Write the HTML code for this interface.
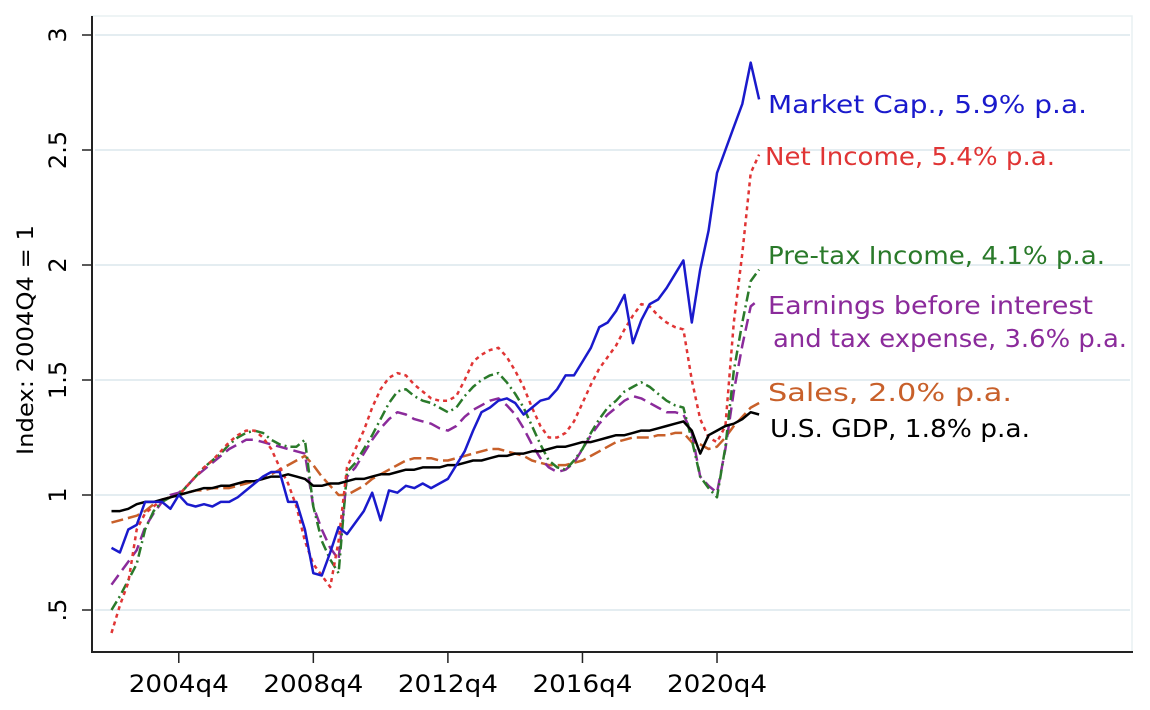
<!DOCTYPE html>
<html><head><meta charset="utf-8"><style>
html,body{margin:0;padding:0;background:#fff;}
svg{display:block;font-family:"DejaVu Sans","Liberation Sans",sans-serif;}
</style></head><body>
<svg id="chart" width="1150" height="710" viewBox="0 0 1150 710" xmlns="http://www.w3.org/2000/svg">
<rect x="0" y="0" width="1150" height="710" fill="#fff"/>
<g id="grid"></g>
<g id="axes"></g>
<g id="series"></g>
<g id="labels"></g>
<text transform="translate(33,340) rotate(-90)" text-anchor="middle" font-size="22" textLength="230" lengthAdjust="spacingAndGlyphs" fill="#000">Index: 2004Q4 = 1</text>
</svg>
<script>
const startYear = 2002, startQuarter = 4;
const yTicks = [0.5, 1, 1.5, 2, 2.5, 3];
const yTickLabels = [".5", "1", "1.5", "2", "2.5", "3"];
const xTickLabels = ["2004q4", "2008q4", "2012q4", "2016q4", "2020q4"];
const xTickIndex = [8, 24, 40, 56, 72];
const marketCap = [0.77,0.75,0.85,0.87,0.97,0.97,0.97,0.94,1.00,0.96,0.95,0.96,0.95,0.97,0.97,0.99,1.02,1.05,1.08,1.10,1.10,0.97,0.97,0.85,0.66,0.65,0.75,0.86,0.83,0.88,0.93,1.01,0.89,1.02,1.01,1.04,1.03,1.05,1.03,1.05,1.07,1.13,1.19,1.28,1.36,1.38,1.41,1.42,1.40,1.35,1.38,1.41,1.42,1.46,1.52,1.52,1.58,1.64,1.73,1.75,1.80,1.87,1.66,1.76,1.83,1.85,1.90,1.96,2.02,1.75,1.98,2.15,2.40,2.50,2.60,2.70,2.88,2.72];
const netIncome = [0.40,0.52,0.62,0.85,0.92,0.95,0.98,0.99,1.00,1.04,1.08,1.12,1.15,1.19,1.23,1.26,1.28,1.28,1.25,1.20,1.12,1.05,0.95,0.80,0.70,0.65,0.60,0.80,1.12,1.20,1.28,1.38,1.46,1.51,1.53,1.52,1.48,1.45,1.42,1.41,1.41,1.43,1.50,1.58,1.61,1.63,1.64,1.60,1.54,1.47,1.38,1.30,1.25,1.25,1.27,1.32,1.40,1.48,1.55,1.60,1.65,1.72,1.78,1.83,1.82,1.78,1.75,1.73,1.72,1.50,1.33,1.25,1.23,1.30,1.75,2.05,2.40,2.48];
const preTax = [0.50,0.56,0.63,0.70,0.85,0.93,0.97,0.99,1.00,1.04,1.08,1.12,1.15,1.18,1.22,1.25,1.27,1.28,1.27,1.24,1.22,1.21,1.21,1.24,0.95,0.80,0.72,0.66,1.10,1.14,1.20,1.26,1.33,1.40,1.45,1.46,1.43,1.41,1.40,1.38,1.36,1.38,1.43,1.47,1.50,1.52,1.53,1.49,1.44,1.38,1.30,1.22,1.15,1.12,1.11,1.15,1.20,1.27,1.33,1.38,1.41,1.45,1.47,1.49,1.47,1.44,1.41,1.39,1.38,1.24,1.08,1.03,0.99,1.21,1.54,1.75,1.93,1.98];
const ebit = [0.61,0.66,0.71,0.76,0.86,0.92,0.97,1.00,1.01,1.04,1.08,1.11,1.14,1.17,1.20,1.22,1.24,1.24,1.23,1.22,1.21,1.20,1.19,1.18,0.95,0.85,0.77,0.72,1.08,1.12,1.18,1.24,1.29,1.33,1.36,1.35,1.33,1.32,1.31,1.29,1.28,1.30,1.34,1.37,1.39,1.41,1.42,1.39,1.35,1.29,1.22,1.16,1.12,1.10,1.11,1.14,1.20,1.26,1.31,1.35,1.38,1.41,1.43,1.42,1.40,1.38,1.36,1.36,1.35,1.27,1.08,1.04,1.01,1.20,1.45,1.65,1.82,1.85];
const sales = [0.88,0.89,0.90,0.91,0.93,0.96,0.98,0.99,1.00,1.01,1.02,1.02,1.03,1.03,1.03,1.04,1.05,1.06,1.07,1.09,1.11,1.13,1.15,1.17,1.13,1.08,1.04,1.00,1.00,1.02,1.04,1.07,1.09,1.11,1.13,1.15,1.16,1.16,1.16,1.15,1.15,1.16,1.17,1.18,1.19,1.20,1.20,1.19,1.18,1.17,1.15,1.14,1.13,1.13,1.13,1.14,1.15,1.17,1.19,1.21,1.23,1.24,1.25,1.25,1.25,1.26,1.26,1.27,1.27,1.23,1.22,1.20,1.21,1.25,1.30,1.34,1.38,1.40];
const gdp = [0.93,0.93,0.94,0.96,0.97,0.97,0.98,0.99,1.00,1.01,1.02,1.03,1.03,1.04,1.04,1.05,1.06,1.06,1.07,1.08,1.08,1.09,1.08,1.07,1.04,1.04,1.05,1.05,1.06,1.07,1.07,1.08,1.09,1.09,1.10,1.11,1.11,1.12,1.12,1.12,1.13,1.13,1.14,1.15,1.15,1.16,1.17,1.17,1.18,1.18,1.19,1.19,1.20,1.21,1.21,1.22,1.23,1.23,1.24,1.25,1.26,1.26,1.27,1.28,1.28,1.29,1.30,1.31,1.32,1.28,1.18,1.26,1.28,1.30,1.31,1.33,1.36,1.35];

const NS = "http://www.w3.org/2000/svg";
const X0 = 111.5, XQ = 8.41;
function xScale(i){ return X0 + XQ*i; }
function yScale(v){ return 495 - (v-1)*230; }
function mk(tag, parent){ const e=document.createElementNS(NS,tag); parent.appendChild(e); return e; }

const grid = document.getElementById('grid');
const axes = document.getElementById('axes');
const border=mk('rect',grid);


border.setAttribute('x',92);border.setAttribute('y',16);border.setAttribute('width',1040);border.setAttribute('height',636);
border.setAttribute('fill','none');border.setAttribute('stroke','#e8f0f2');border.setAttribute('stroke-width',1.5);
yTicks.forEach((t,k)=>{
  const y=yScale(t);
  const g=mk('line',grid);
  
  
  g.setAttribute('x1',95);g.setAttribute('x2',1130);g.setAttribute('y1',y);g.setAttribute('y2',y);
  g.setAttribute('stroke','#e4edf1');g.setAttribute('stroke-width',2);
  const tk=mk('line',axes);
  
  
  tk.setAttribute('x1',82);tk.setAttribute('x2',92);tk.setAttribute('y1',y);tk.setAttribute('y2',y);
  tk.setAttribute('stroke','#222');tk.setAttribute('stroke-width',1.5);
  const tl=mk('text',axes);
  
  
  tl.setAttribute('transform','translate(66,'+y+') rotate(-90)');
  tl.setAttribute('text-anchor','middle');tl.setAttribute('font-size','24');
  tl.textContent=yTickLabels[k];
});
xTickIndex.forEach((q,k)=>{
  const x=xScale(q);
  const tk=mk('line',axes);
  
  
  tk.setAttribute('x1',x);tk.setAttribute('x2',x);tk.setAttribute('y1',652);tk.setAttribute('y2',663);
  tk.setAttribute('stroke','#222');tk.setAttribute('stroke-width',1.5);
  const tl=mk('text',axes);
  
  
  tl.setAttribute('x',x);tl.setAttribute('y',692);
  tl.setAttribute('text-anchor','middle');tl.setAttribute('font-size','24');
  tl.setAttribute('textLength','100');tl.setAttribute('lengthAdjust','spacingAndGlyphs');
  tl.textContent=xTickLabels[k];
});
const yAxis=mk('line',axes);


yAxis.setAttribute('x1',92);yAxis.setAttribute('x2',92);yAxis.setAttribute('y1',16);yAxis.setAttribute('y2',652);
yAxis.setAttribute('stroke','#222');yAxis.setAttribute('stroke-width',2);
const xAxis=mk('line',axes);


xAxis.setAttribute('x1',91);xAxis.setAttribute('x2',1133);xAxis.setAttribute('y1',652);xAxis.setAttribute('y2',652);
xAxis.setAttribute('stroke','#222');xAxis.setAttribute('stroke-width',2);

const seriesG=document.getElementById('series');
function drawLine(data,color,dash,name){
  const p=mk('polyline',seriesG);
  
  
  p.setAttribute('points',data.map((v,i)=>xScale(i).toFixed(1)+','+yScale(v).toFixed(1)).join(' '));
  p.setAttribute('fill','none');p.setAttribute('stroke',color);p.setAttribute('stroke-width',2.5);
  p.setAttribute('stroke-linejoin','round');
  if(dash) p.setAttribute('stroke-dasharray',dash);
}
drawLine(sales,'#c8602a','12 5','sales-line');
drawLine(ebit,'#8b2b9b','12 6','ebit-line');
drawLine(preTax,'#2a7a2a','10 4 2 4','pretax-line');
drawLine(netIncome,'#e03535','4 4','net-income-line');
drawLine(gdp,'#000000','','gdp-line');
drawLine(marketCap,'#1a1acc','','market-cap-line');
</script>
<script>
(function(){
const lab=document.getElementById('labels');
const NS="http://www.w3.org/2000/svg";
function t(x,y,c,s,w,name){
  const e=document.createElementNS(NS,'text');
  
  
  e.setAttribute('x',x);e.setAttribute('y',y);e.setAttribute('fill',c);e.setAttribute('font-size','25');
  e.setAttribute('textLength',w);e.setAttribute('lengthAdjust','spacingAndGlyphs');
  e.textContent=s;lab.appendChild(e);
}
t(768,113,'#1a1acc','Market Cap., 5.9% p.a.',319,'market-cap-label');
t(765,165,'#e03535','Net Income, 5.4% p.a.',290,'net-income-label');
t(768,264,'#2a7a2a','Pre-tax Income, 4.1% p.a.',337,'pretax-label');
t(768,314,'#8b2b9b','Earnings before interest',325,'ebit-label-line1');
t(773,347,'#8b2b9b','and tax expense, 3.6% p.a.',354,'ebit-label-line2');
t(768,401,'#c8602a','Sales, 2.0% p.a.',244,'sales-label');
t(770,437,'#000000','U.S. GDP, 1.8% p.a.',260,'gdp-label');
})();
</script>
</body></html>
